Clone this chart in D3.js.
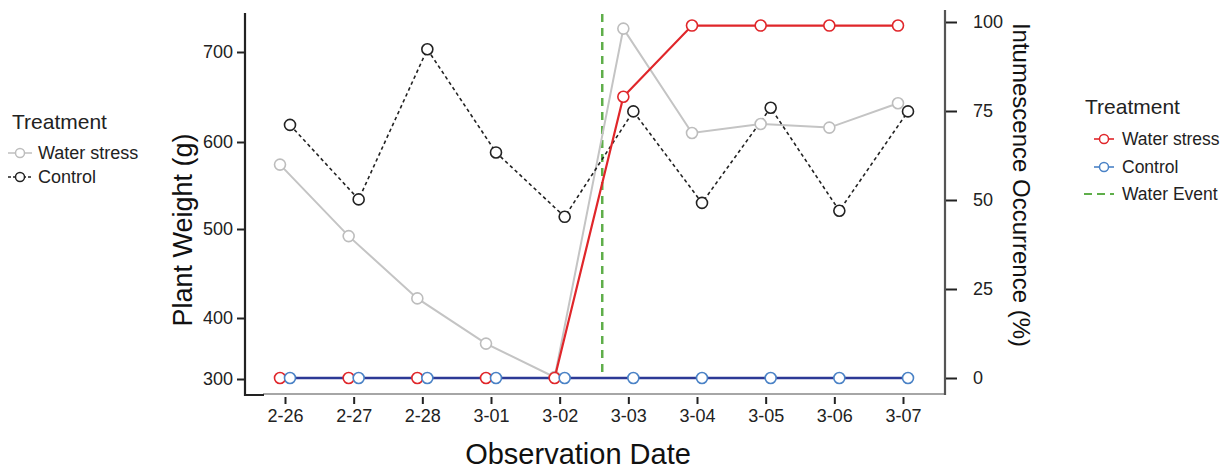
<!DOCTYPE html>
<html><head><meta charset="utf-8">
<script src="https://cdn.jsdelivr.net/npm/d3@7"></script>
<style>body{margin:0;background:#fff}svg{font-family:"Liberation Sans",Arial,sans-serif}</style>
</head><body>
<svg id="c" width="1225" height="472"></svg>
<script>
const dates = ["2-26","2-27","2-28","3-01","3-02","3-03","3-04","3-05","3-06","3-07"];
const weightStress = [574, 492, 422, 358, 303, 726, 610, 620, 616, 643];
const weightControl = [619, 534, 703, 588, 514, 634, 530, 638, 521, 634];
const occStress = [0, 0, 0, 0, 0, 79, 99, 99, 99, 99];
const occControl = [0, 0, 0, 0, 0, 0, 0, 0, 0, 0];
const waterEventIndex = 4.62;
const weightTicks = [300, 400, 500, 600, 700];
const occTicks = [0, 25, 50, 75, 100];

const svg = d3.select("#c");
const x = d3.scaleLinear().domain([0, dates.length - 1]).range([285, 903]);
const yW = d3.scaleLinear().domain([300, 400, 500, 600, 700]).range([379, 318, 229, 142, 52]);
const yO = d3.scaleLinear().domain([0, 100]).range([378, 22]);
const dodge = 5;

// frame
svg.append("line").attr("x1",263).attr("x2",946).attr("y1",394).attr("y2",394).attr("stroke","#888").attr("stroke-width",1.5);
svg.append("line").attr("x1",945).attr("x2",945).attr("y1",10).attr("y2",395).attr("stroke","#555").attr("stroke-width",2.2);
svg.append("path").attr("d","M245,13V395H264").attr("fill","none").attr("stroke","#222").attr("stroke-width",2.2);

// left axis
const gL = svg.append("g").attr("transform","translate(245,0)")
  .call(d3.axisLeft(yW).tickValues(weightTicks).tickSize(8).tickPadding(4));
gL.select(".domain").remove();
gL.selectAll("line").attr("stroke","#222").attr("stroke-width",2);
gL.selectAll("text").attr("font-size",18).attr("fill","#222");

// right axis
const gR = svg.append("g").attr("transform","translate(946,0)")
  .call(d3.axisRight(yO).tickValues(occTicks).tickSize(11).tickPadding(16));
gR.select(".domain").remove();
gR.selectAll("line").attr("stroke","#222").attr("stroke-width",2);
gR.selectAll("text").attr("font-size",18).attr("fill","#222");

// bottom axis
const gB = svg.append("g").attr("transform","translate(0,397)")
  .call(d3.axisBottom(x).tickValues(d3.range(dates.length)).tickFormat(i => dates[i]).tickSize(7).tickPadding(5));
gB.select(".domain").remove();
gB.selectAll("line").attr("stroke","#222").attr("stroke-width",2);
gB.selectAll("text").attr("font-size",18).attr("fill","#222");

// titles
svg.append("text").attr("transform","translate(192,230) rotate(-90)").attr("text-anchor","middle")
  .attr("font-size",27).attr("fill","#111").text("Plant Weight (g)");
svg.append("text").attr("transform","translate(1013,185) rotate(90)").attr("text-anchor","middle")
  .attr("font-size",24).attr("fill","#111").text("Intumescence Occurrence (%)");
svg.append("text").attr("x",578).attr("y",464).attr("text-anchor","middle")
  .attr("font-size",29).attr("fill","#111").text("Observation Date");

// water event
svg.append("line").attr("x1",x(waterEventIndex)).attr("x2",x(waterEventIndex))
  .attr("y1",14).attr("y2",yO(0)).attr("stroke","#5fae4a").attr("stroke-width",2.5).attr("stroke-dasharray","8,6");

function series(vals, yScale, off, lineColor, lw, dash, ptColor) {
  const line = d3.line().x((d,i) => x(i) + off).y(d => yScale(d));
  svg.append("path").datum(vals).attr("d", line).attr("fill","none")
    .attr("stroke", lineColor).attr("stroke-width", lw).attr("stroke-dasharray", dash);
  return () => svg.append("g").selectAll("circle").data(vals).join("circle")
    .attr("cx",(d,i)=>x(i)+off).attr("cy",d=>yScale(d)).attr("r",5.5)
    .attr("fill","#fff").attr("stroke",ptColor).attr("stroke-width",1.6);
}

const p1 = series(weightStress, yW, -dodge, "#c4c4c4", 2, null, "#bdbdbd");
const p2 = series(weightControl, yW, dodge, "#222", 1.6, "3.5,3", "#222");
p1(); p2();
const p3 = series(occStress, yO, -dodge, "#e0262a", 2.2, null, "#e0262a");
const p4 = series(occControl, yO, dodge, "#2c3a96", 2.6, null, "#4a82c6");
p3(); p4();

// left legend
svg.append("text").attr("x",12).attr("y",129).attr("font-size",21).attr("fill","#222").text("Treatment");
const legL = [["Water stress","#c4c4c4","#bdbdbd",null],["Control","#222","#222","3,2"]];
legL.forEach((d,i)=>{
  const yy = 153 + i*24;
  svg.append("line").attr("x1",8).attr("x2",32).attr("y1",yy).attr("y2",yy).attr("stroke",d[1]).attr("stroke-width",1.6).attr("stroke-dasharray",d[3]);
  svg.append("circle").attr("cx",20).attr("cy",yy).attr("r",4.5).attr("fill","#fff").attr("stroke",d[2]).attr("stroke-width",1.5);
  svg.append("text").attr("x",38).attr("y",yy+6).attr("font-size",18).attr("fill","#222").text(d[0]);
});

// right legend
svg.append("text").attr("x",1085).attr("y",114).attr("font-size",21).attr("fill","#222").text("Treatment");
const legR = [["Water stress","#e0262a","#e0262a"],["Control","#4a82c6","#4a82c6"]];
legR.forEach((d,i)=>{
  const yy = 139 + i*28;
  svg.append("line").attr("x1",1094).attr("x2",1114).attr("y1",yy).attr("y2",yy).attr("stroke",d[1]).attr("stroke-width",1.6);
  svg.append("circle").attr("cx",1104).attr("cy",yy).attr("r",4.5).attr("fill","#fff").attr("stroke",d[2]).attr("stroke-width",1.5);
  svg.append("text").attr("x",1122).attr("y",yy+6).attr("font-size",17.5).attr("fill","#222").text(d[0]);
});
svg.append("line").attr("x1",1084).attr("x2",1114).attr("y1",194).attr("y2",194).attr("stroke","#5fae4a").attr("stroke-width",2.2).attr("stroke-dasharray","8,5");
svg.append("text").attr("x",1122).attr("y",200).attr("font-size",17.5).attr("fill","#222").text("Water Event");
</script>
</body></html>
